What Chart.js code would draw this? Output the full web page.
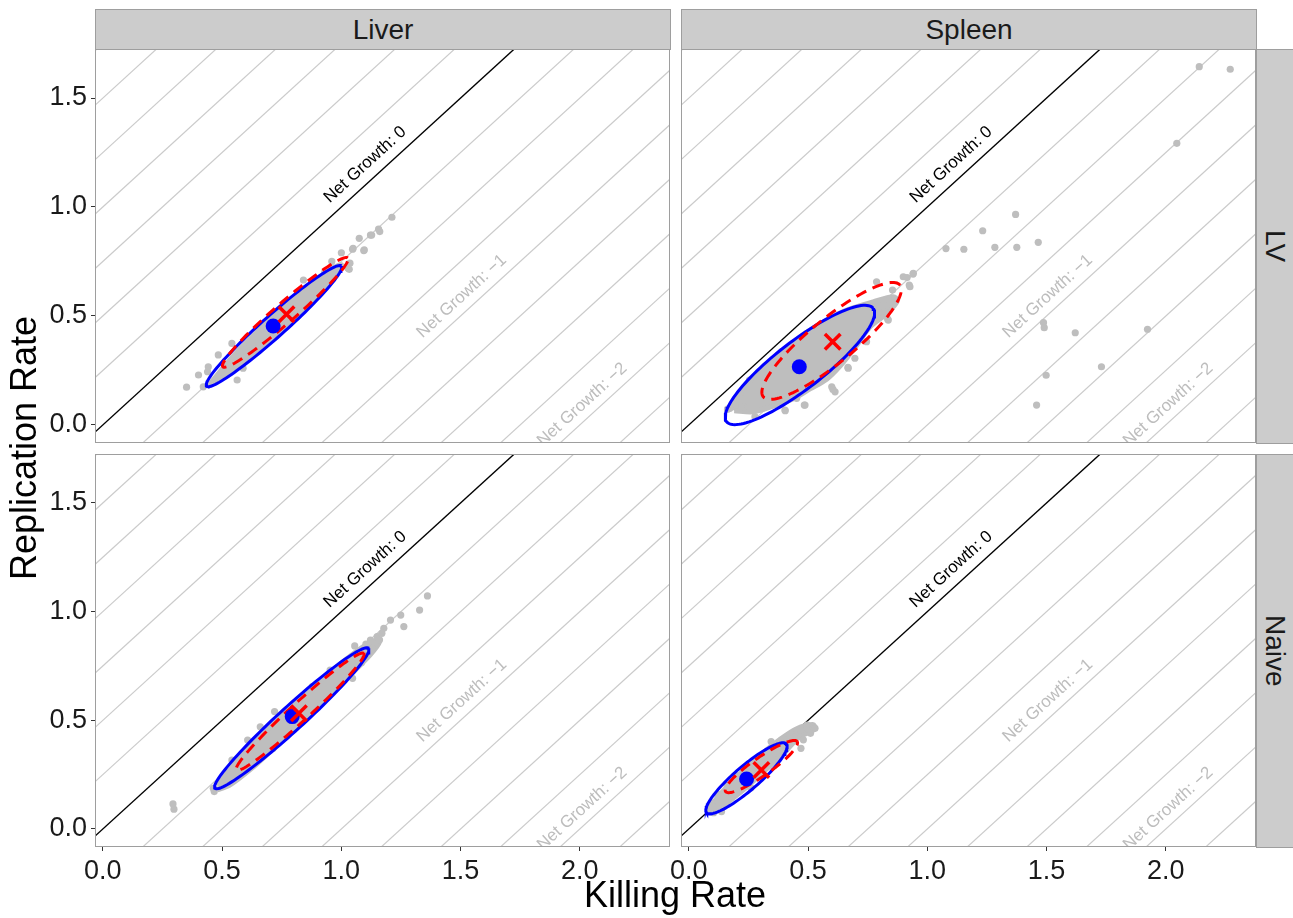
<!DOCTYPE html>
<html>
<head>
<meta charset="utf-8">
<script src="https://cdn.jsdelivr.net/npm/chart.js@4.4.1/dist/chart.umd.min.js"></script>
<style>
  body { margin:0; background:#fff; width:1293px; height:918px; position:relative; overflow:hidden; font-family:"Liberation Sans", Arial, sans-serif; }
  canvas { position:absolute; }
  .strip { position:absolute; background:#cccccc; border:1px solid #9e9e9e; box-sizing:border-box; color:#1a1a1a; font-size:28px; display:flex; align-items:center; justify-content:center; }
  .vert { writing-mode:vertical-rl; }
  .title { position:absolute; color:#000; font-size:36px; line-height:36px; white-space:nowrap; text-align:center; }
</style>
</head>
<body>
<canvas id="c_liver_lv" width="671" height="396" style="left:0px;top:48px"></canvas>
<canvas id="c_spleen_lv" width="617" height="396" style="left:640px;top:48px"></canvas>
<canvas id="c_liver_naive" width="671" height="464" style="left:0px;top:453px"></canvas>
<canvas id="c_spleen_naive" width="617" height="464" style="left:640px;top:453px"></canvas>

<div class="strip" style="left:95px;top:9px;width:576px;height:41px">Liver</div>
<div class="strip" style="left:681px;top:9px;width:576px;height:41px">Spleen</div>
<div class="strip" style="left:1256px;top:49px;width:38px;height:395px"><span class="vert">LV</span></div>
<div class="strip" style="left:1256px;top:454px;width:38px;height:394px"><span class="vert">Naive</span></div>

<div class="title" style="left:-176px;top:430px;width:400px;transform:rotate(-90deg)">Replication Rate</div>
<div class="title" style="left:475px;top:877px;width:400px">Killing Rate</div>

<script>
// axis ranges and ticks (same for every facet)
const xLimits = [-0.033, 2.378];
const yLimits = [-0.083, 1.725];
const xTicks = [0, 0.5, 1, 1.5, 2];
const yTicks = [0, 0.5, 1, 1.5];

// net growth reference lines: replication = killing + level
const growthLevels = [1.75, 1.5, 1.25, 1, 0.75, 0.5, 0.25, 0, -0.25, -0.5, -0.75, -1, -1.25, -1.5, -1.75, -2, -2.25, -2.5];
const growthLabels = ['Net Growth: 0', 'Net Growth: \u22121', 'Net Growth: \u22122'];
const growthLabelPos = [[1.10, 1.194], [1.505, 0.59], [2.01, 0.093]];
const growthLabelColors = ['#000000', '#bdbdbd', '#bdbdbd'];

// ---- Liver / LV ----
const liverLVPoints = [[0.351,0.173],[0.401,0.229],[0.421,0.175],[0.442,0.267],[0.439,0.244],[0.484,0.321],
  [0.541,0.374],[0.563,0.206],[0.588,0.260],[0.52,0.23],[0.60,0.35],[0.65,0.42],[0.70,0.40],[0.75,0.52],
  [0.80,0.52],[0.841,0.665],[0.88,0.64],[0.93,0.70],[0.96,0.75],[1.0,0.79],[1.036,0.742],[1.033,0.714],
  [1.028,0.719],[1.047,0.806],[1.049,0.81],[1.075,0.856],[1.094,0.80],[1.096,0.803],[1.122,0.871],
  [1.127,0.871],[1.156,0.898],[1.161,0.887],[1.212,0.953]];
// outline of the dense part of the point cloud
const liverLVCloud = [[0.45,0.19],[0.55,0.32],[0.65,0.43],[0.75,0.535],[0.85,0.63],[0.95,0.71],[1.0,0.735],
  [0.98,0.70],[0.90,0.59],[0.80,0.49],[0.70,0.39],[0.60,0.30],[0.50,0.215],[0.44,0.175]];
const liverLVBlueCentre = [0.714, 0.454];
const liverLVRedCentre = [0.77, 0.508];
// ellipse: major axis ends, then end of the minor half-axis
const liverLVBlueEllipse = [[0.435,0.178],[1.0,0.729],[0.687,0.4915]];
const liverLVRedEllipse = [[0.503,0.267],[1.027,0.766],[0.7375,0.551]];

// ---- Spleen / LV ----
const spleenLVPoints = [[2.14,1.644],[2.27,1.632],[2.046,1.292],[1.370,0.966],[1.232,0.891],[1.078,0.809],
  [1.153,0.806],[1.283,0.815],[1.375,0.815],[1.465,0.838],[0.940,0.692],[0.915,0.676],[0.927,0.634],
  [0.941,0.696],[0.899,0.68],[0.924,0.642],[0.787,0.657],[0.836,0.481],[0.822,0.52],[0.834,0.485],
  [0.745,0.382],[0.696,0.306],[0.668,0.26],[0.667,0.264],[0.613,0.152],[0.599,0.175],[0.604,0.163],
  [0.487,0.091],[0.484,0.091],[0.452,0.122],[0.403,0.068],[0.404,0.065],[0.277,0.038],[0.228,0.084],
  [0.221,0.084],[0.172,0.076],[0.162,0.072],[0.214,0.145],[0.254,0.206],[0.389,0.336],[0.438,0.374],
  [1.487,0.469],[1.490,0.446],[1.620,0.423],[1.923,0.439],[1.730,0.267],[1.498,0.228],[1.458,0.091],
  [0.854,0.619],[0.837,0.573]];
const spleenLVCloud = [[0.17,0.08],[0.256,0.206],[0.368,0.313],[0.466,0.405],[0.578,0.481],[0.662,0.527],
  [0.773,0.565],[0.857,0.588],[0.875,0.57],[0.83,0.51],[0.76,0.45],[0.70,0.36],[0.634,0.27],
  [0.578,0.21],[0.508,0.165],[0.438,0.12],[0.35,0.085],[0.27,0.06],[0.19,0.065]];
const spleenLVBlueCentre = [0.463, 0.267];
const spleenLVRedCentre = [0.603, 0.382];
const spleenLVBlueEllipse = [[0.158,0.015],[0.773,0.535],[0.405,0.361]];
const spleenLVRedEllipse = [[0.312,0.129],[0.885,0.642],[0.540,0.464]];

// ---- Liver / Naive ----
const liverNaivePoints = [[0.294,0.115],[0.298,0.091],[0.463,0.187],[0.467,0.172],[0.52,0.26],[0.541,0.317],
  [0.607,0.409],[0.714,0.371],[0.66,0.47],[0.72,0.54],[0.878,0.655],[0.953,0.731],[1.047,0.693],
  [1.084,0.765],[1.056,0.842],[1.103,0.851],[1.122,0.869],[1.15,0.885],[1.178,0.923],[1.206,0.961],
  [1.249,0.984],[1.262,0.931],[1.328,1.007],[1.361,1.072],[1.13,0.83],[1.14,0.86],[1.09,0.82],
  [1.16,0.87],[1.17,0.9]];
const liverNaiveCloud = [[0.48,0.20],[0.58,0.335],[0.68,0.445],[0.78,0.55],[0.88,0.65],[0.98,0.745],
  [1.08,0.83],[1.14,0.865],[1.16,0.86],[1.12,0.80],[1.02,0.69],[0.92,0.585],[0.82,0.48],[0.72,0.375],
  [0.62,0.275],[0.53,0.20],[0.48,0.18]];
const liverNaiveBlueCentre = [0.794, 0.517];
const liverNaiveRedCentre = [0.822, 0.532];
const liverNaiveBlueEllipse = [[0.470,0.187],[1.114,0.831],[0.758,0.550]];
const liverNaiveRedEllipse = [[0.560,0.271],[1.094,0.808],[0.801,0.570]];

// ---- Spleen / Naive ----
const spleenNaivePoints = [[0.104,0.075],[0.087,0.09],[0.095,0.12],[0.12,0.16],[0.137,0.08],[0.16,0.20],
  [0.20,0.245],[0.26,0.19],[0.345,0.402],[0.38,0.33],[0.421,0.432],[0.454,0.448],[0.47,0.455],
  [0.47,0.371],[0.496,0.478],[0.529,0.463],[0.51,0.44],[0.44,0.42],[0.40,0.39],[0.48,0.41]];
const spleenNaiveCloud = [[0.08,0.09],[0.14,0.17],[0.22,0.26],[0.30,0.34],[0.38,0.41],[0.45,0.46],
  [0.52,0.48],[0.53,0.46],[0.46,0.42],[0.40,0.35],[0.32,0.27],[0.24,0.19],[0.16,0.12],[0.10,0.07]];
const spleenNaiveBlueCentre = [0.242, 0.230];
const spleenNaiveRedCentre = [0.304, 0.271];
const spleenNaiveBlueEllipse = [[0.074,0.075],[0.409,0.391],[0.209,0.275]];
const spleenNaiveRedEllipse = [[0.154,0.172],[0.454,0.402],[0.282,0.321]];

const FONT = '"Liberation Sans", Arial, sans-serif';
const pointGrey = '#bebebe';

function toXY(arr) {
  return arr.map(p => ({ x: p[0], y: p[1] }));
}

// outline of an ellipse given its two axis ends and one minor axis end
function ellipseOutline(e) {
  const cx = (e[0][0] + e[1][0]) / 2, cy = (e[0][1] + e[1][1]) / 2;
  const ux = e[1][0] - cx, uy = e[1][1] - cy;
  const vx = e[2][0] - cx, vy = e[2][1] - cy;
  let pts = [];
  for (let i = 0; i <= 120; i++) {
    let t = i / 120 * 2 * Math.PI;
    pts.push({ x: cx + ux * Math.cos(t) + vx * Math.sin(t), y: cy + uy * Math.cos(t) + vy * Math.sin(t) });
  }
  return pts;
}

// draws the net growth labels and the panel frame
const panelPlugin = {
  id: 'panelExtras',
  afterDatasetsDraw(chart) {
    const { ctx, chartArea } = chart;
    const x = chart.scales.x, y = chart.scales.y;
    const ang = Math.atan2(y.getPixelForValue(1) - y.getPixelForValue(0), x.getPixelForValue(1) - x.getPixelForValue(0));
    ctx.save();
    ctx.beginPath();
    ctx.rect(chartArea.left, chartArea.top, chartArea.width, chartArea.height);
    ctx.clip();
    ctx.font = '17px ' + FONT;
    ctx.textAlign = 'center';
    ctx.textBaseline = 'middle';
    growthLabels.forEach((txt, i) => {
      ctx.save();
      ctx.translate(x.getPixelForValue(growthLabelPos[i][0]), y.getPixelForValue(growthLabelPos[i][1]));
      ctx.rotate(ang);
      ctx.fillStyle = growthLabelColors[i];
      ctx.fillText(txt, 0, 0);
      ctx.restore();
    });
    ctx.restore();
    ctx.save();
    ctx.strokeStyle = '#9e9e9e';
    ctx.lineWidth = 1;
    ctx.strokeRect(chartArea.left + 0.5, chartArea.top + 0.5, chartArea.width - 1, chartArea.height - 1);
    ctx.restore();
  }
};

function makePanel(id, points, cloud, blueCentre, redCentre, blueEllipse, redEllipse, showX, showY, padding) {
  let datasets = [];
  growthLevels.forEach(g => {
    datasets.push({
      data: [{ x: -1, y: -1 + g }, { x: 4, y: 4 + g }],
      showLine: true, pointRadius: 0,
      borderColor: g === 0 ? '#000000' : '#cbcbcb',
      borderWidth: g === 0 ? 1.4 : 1.2,
      order: g === 0 ? 19 : 20
    });
  });
  datasets.push({
    data: toXY(cloud), showLine: true, fill: 'shape', tension: 0.3,
    backgroundColor: pointGrey, borderColor: pointGrey, borderWidth: 5, pointRadius: 0, order: 10
  });
  datasets.push({
    data: toXY(points), pointRadius: 3.6, backgroundColor: pointGrey, borderWidth: 0, order: 9
  });
  datasets.push({
    data: ellipseOutline(blueEllipse), showLine: true, pointRadius: 0,
    borderColor: '#0000ff', borderWidth: 3, order: 4
  });
  datasets.push({
    data: ellipseOutline(redEllipse), showLine: true, pointRadius: 0,
    borderColor: '#ff0000', borderWidth: 3, borderDash: [11, 7], order: 3
  });
  datasets.push({
    data: toXY([blueCentre]), pointRadius: 7.5, backgroundColor: '#0000ff', borderWidth: 0, order: 2
  });
  datasets.push({
    data: toXY([redCentre]), pointStyle: 'crossRot', pointRadius: 11,
    borderColor: '#ff0000', borderWidth: 3.5, order: 1
  });

  const tickFont = { size: 27, family: FONT };
  new Chart(document.getElementById(id), {
    type: 'scatter',
    data: { datasets: datasets },
    options: {
      responsive: false,
      animation: false,
      layout: { padding: padding, autoPadding: false },
      plugins: { legend: { display: false }, tooltip: { enabled: false } },
      scales: {
        x: {
          type: 'linear', min: xLimits[0], max: xLimits[1], display: showX,
          afterFit: s => {
            s.paddingLeft = 0; s.paddingRight = 0;
            s.height = showX ? 70 : 0;
          },
          afterBuildTicks: s => { s.ticks = xTicks.map(v => ({ value: v })); },
          grid: { drawOnChartArea: false, drawTicks: true, tickLength: 4, color: '#333333' },
          border: { display: false },
          ticks: { font: tickFont, color: '#1a1a1a', padding: 4, maxRotation: 0, autoSkip: false, callback: v => v.toFixed(1) }
        },
        y: {
          type: 'linear', min: yLimits[0], max: yLimits[1], display: showY,
          afterFit: s => {
            s.paddingTop = 0; s.paddingBottom = 0;
            s.width = showY ? 95 : 0;
          },
          afterBuildTicks: s => { s.ticks = yTicks.map(v => ({ value: v })); },
          grid: { drawOnChartArea: false, drawTicks: true, tickLength: 4, color: '#333333' },
          border: { display: false },
          ticks: { font: tickFont, color: '#1a1a1a', padding: 4, autoSkip: false, callback: v => v.toFixed(1) }
        }
      }
    },
    plugins: [panelPlugin]
  });
}

makePanel('c_liver_lv', liverLVPoints, liverLVCloud, liverLVBlueCentre, liverLVRedCentre,
  liverLVBlueEllipse, liverLVRedEllipse, false, true, { left: 0, top: 1, right: 1, bottom: 1 });
makePanel('c_spleen_lv', spleenLVPoints, spleenLVCloud, spleenLVBlueCentre, spleenLVRedCentre,
  spleenLVBlueEllipse, spleenLVRedEllipse, false, false, { left: 41, top: 1, right: 1, bottom: 1 });
makePanel('c_liver_naive', liverNaivePoints, liverNaiveCloud, liverNaiveBlueCentre, liverNaiveRedCentre,
  liverNaiveBlueEllipse, liverNaiveRedEllipse, true, true, { left: 0, top: 1, right: 1, bottom: 0 });
makePanel('c_spleen_naive', spleenNaivePoints, spleenNaiveCloud, spleenNaiveBlueCentre, spleenNaiveRedCentre,
  spleenNaiveBlueEllipse, spleenNaiveRedEllipse, true, false, { left: 41, top: 1, right: 1, bottom: 0 });
</script>
</body>
</html>
